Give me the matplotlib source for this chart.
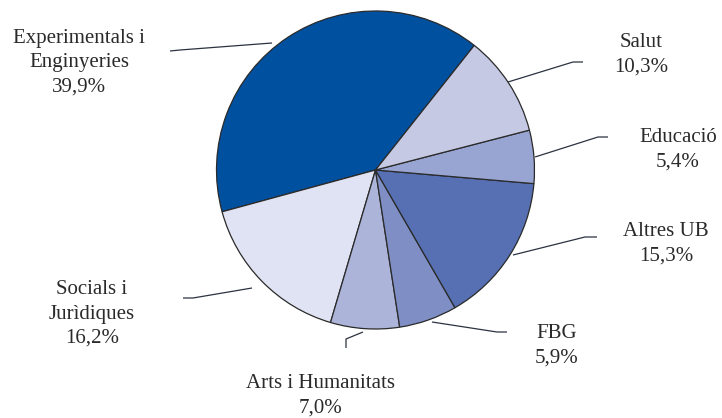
import matplotlib
matplotlib.use("Agg")
import matplotlib.pyplot as plt

# shares per area, counterclockwise from the top right
areas = ["Experimentals i\nEnginyeries", "Socials i\nJurìdiques", "Arts i Humanitats",
         "FBG", "Altres UB", "Educació", "Salut"]
shares = [39.9, 16.2, 7.0, 5.9, 15.3, 5.4, 10.3]
colors = ["#0050a0", "#e0e3f3", "#acb4da", "#7f8fc6", "#5670b3", "#98a4d2", "#c5c9e4"]

W, H = 722, 418

fig = plt.figure(figsize=(W / 100, H / 100), dpi=100)
ax = fig.add_axes([0, 0, 1, 1])
ax.set_xlim(0, W)
ax.set_ylim(0, H)
ax.set_aspect("equal")
ax.axis("off")

ax.pie(
    shares,
    colors=colors,
    center=(375.5, H - 170),
    radius=159,
    startangle=51.6,
    counterclock=True,
    wedgeprops=dict(edgecolor="#2a2a2a", linewidth=0.9),
)
ax.set_xlim(0, W)
ax.set_ylim(0, H)

# label layout in pixel coords (y from top): text centre, leader polyline
layout = {
    "Experimentals i\nEnginyeries": ((79, 63), [(272, 43), (180, 50), (170, 51)]),
    "Socials i\nJurìdiques": ((92, 314), [(252, 288), (193, 298), (183, 298)]),
    "Arts i Humanitats": ((321, 396), [(363, 332), (346, 339), (346, 348)]),
    "FBG": ((557, 346), [(432, 322), (497, 332), (507, 332)]),
    "Altres UB": ((666, 244), [(513, 255), (585, 237), (597, 237)]),
    "Educació": ((678, 150), [(535, 157), (598, 137), (608, 137)]),
    "Salut": ((641, 55), [(508, 82), (573, 62), (583, 62)]),
}

for name, val in zip(areas, shares):
    (tx, ty), pts = layout[name]
    xs = [p[0] for p in pts]
    ys = [H - p[1] for p in pts]
    ax.plot(xs, ys, color="#2b3340", lw=0.9, solid_capstyle="butt")
    txt = name + "\n" + f"{val:.1f}%".replace(".", ",")
    ax.text(tx, H - ty, txt, ha="center", va="center", fontsize=15,
            family="Liberation Serif", color="#2a2a2a", linespacing=1.38)

fig.savefig("out.png", dpi=100)
